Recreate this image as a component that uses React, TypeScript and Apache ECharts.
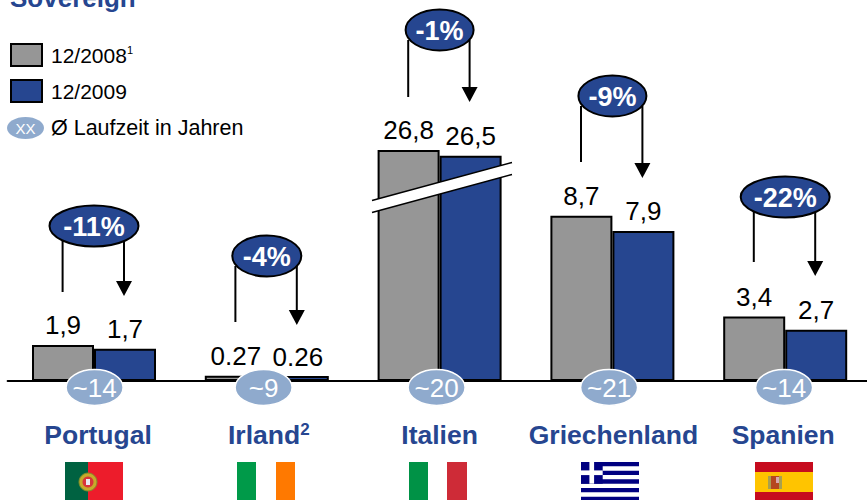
import React, { useEffect, useRef } from "react";
import * as echarts from "echarts";

const title = "Sovereign";
const categories = ["Portugal", "Irland²", "Italien", "Griechenland", "Spanien"];
const values2008 = [1.9, 0.27, 26.8, 8.7, 3.4];
const values2009 = [1.7, 0.26, 26.5, 7.9, 2.7];
const labels2008 = ["1,9", "0.27", "26,8", "8,7", "3,4"];
const labels2009 = ["1,7", "0.26", "26,5", "7,9", "2,7"];
const changes = ["-11%", "-4%", "-1%", "-9%", "-22%"];
const maturities = ["~14", "~9", "~20", "~21", "~14"];
const legendNames = ["12/2008", "12/2009"];
const legendNote = "Ø Laufzeit in Jahren";

const FONT = "'Liberation Sans', Arial, sans-serif";
const BLUE = "#264690";
const GRAY = "#969696";
const PALE = "#8FAACD";

// annotation geometry (pixels), one row per country
const bubbleCy = [226, 256, 30, 96, 197];
const bubbleRx = [44.5, 34.5, 34, 34, 44.5];
const leftEnd = [292, 322, 97, 162, 262];
const arrowTip = [296, 325, 102, 178, 276];
const labelShift = [8, 4, 0, 2, -4];
const pillDx = [0.6, -3.2, -3, -3.3, -1.1];

function renderDecor(_: any, api: any) {
  const i = api.value(0);
  const cx = api.coord([i, 0])[0];
  const cy = bubbleCy[i];
  const rx = bubbleRx[i];
  const tip = arrowTip[i];
  const lx = cx - 31.4;
  const rxLine = cx + 30;
  const black = { stroke: "#000", lineWidth: 2, fill: "none" };
  return {
    type: "group",
    children: [
      { type: "line", shape: { x1: lx, y1: cy + 10, x2: lx, y2: leftEnd[i] }, style: black },
      { type: "line", shape: { x1: rxLine, y1: cy + 10, x2: rxLine, y2: tip - 14 }, style: black },
      {
        type: "polygon",
        shape: { points: [[rxLine - 8, tip - 15], [rxLine + 8, tip - 15], [rxLine, tip]] },
        style: { fill: "#000" },
      },
      {
        type: "ellipse",
        shape: { cx, cy, rx, ry: 20.5 },
        style: { fill: BLUE, stroke: "#000", lineWidth: 2 },
      },
      {
        type: "text",
        style: {
          text: changes[i], x: cx, y: cy + 1, fill: "#fff", fontSize: 27, fontWeight: "bold", fontFamily: FONT,
          align: "center", verticalAlign: "middle", textAlign: "center", textVerticalAlign: "middle",
        },
      },
      {
        type: "ellipse",
        shape: { cx: cx + pillDx[i], cy: 387.5, rx: 28.5, ry: 18 },
        style: { fill: PALE, stroke: "#fff", lineWidth: 1.5 },
      },
      {
        type: "text",
        style: {
          text: maturities[i], x: cx + pillDx[i], y: 388, fill: "#fff", fontSize: 26, fontFamily: FONT,
          align: "center", verticalAlign: "middle", textAlign: "center", textVerticalAlign: "middle",
        },
      },
    ],
  };
}

function flagRect(x: number, y: number, width: number, height: number, fill: string) {
  return { type: "rect", shape: { x, y, width, height }, style: { fill }, z: 10 };
}

function greekFlag() {
  const x = 581, y = 462, s = 4.33, out: any[] = [];
  for (let k = 0; k < 9; k += 2) out.push(flagRect(x, y + k * s, 58, s, "#000080"));
  out.push(flagRect(x, y, 21.7, 21.7, "#000080"));
  out.push(flagRect(x + 8.4, y, 4.7, 21.7, "#fff"));
  out.push(flagRect(x, y + 8.4, 21.7, 4.7, "#fff"));
  return out;
}

const flags = [
  flagRect(65, 462, 23, 38, "#006241"),
  flagRect(88, 462, 35, 38, "#ED1C2B"),
  { type: "circle", shape: { cx: 88, cy: 482, r: 9 }, style: { fill: "#C8A92A", stroke: "#7F8F2A", lineWidth: 1 }, z: 11 },
  { type: "circle", shape: { cx: 88, cy: 482, r: 5.5 }, style: { fill: "#D8343A" }, z: 12 },
  { ...flagRect(86, 479, 4, 6, "#E8E8F0"), z: 13 },
  flagRect(237, 462, 19, 38, "#009A49"),
  flagRect(276, 462, 19, 38, "#FF7900"),
  flagRect(409, 462, 19, 38, "#009246"),
  flagRect(447, 462, 20, 38, "#CE2B37"),
  ...greekFlag(),
  flagRect(755, 462, 58, 10, "#C60B1E"),
  flagRect(755, 472, 58, 20, "#FFC400"),
  flagRect(755, 492, 58, 8, "#C60B1E"),
  { ...flagRect(768, 476, 3, 13, "#A8A050"), z: 11 },
  { ...flagRect(779, 476, 3, 13, "#A8A050"), z: 11 },
  { ...flagRect(771, 476, 8, 13, "#B5471F"), z: 11 },
  { ...flagRect(776, 477, 3, 6, "#D8A8B0"), z: 12 },
];

const breakMark = [
  { type: "polygon", shape: { points: [[372, 200.5], [512, 162.5], [512, 174.5], [372, 212.5]] }, style: { fill: "#fff" }, z: 20 },
  { type: "line", shape: { x1: 372, y1: 200.5, x2: 512, y2: 162.5 }, style: { stroke: "#000", lineWidth: 1.5 }, z: 21 },
  { type: "line", shape: { x1: 372, y1: 212.5, x2: 512, y2: 174.5 }, style: { stroke: "#000", lineWidth: 1.5 }, z: 21 },
];

const legendKey = [
  { type: "ellipse", shape: { cx: 25.5, cy: 128, rx: 18.5, ry: 11 }, style: { fill: PALE } },
  {
    type: "text",
    style: { text: "XX", x: 25.5, y: 128.5, fill: "#fff", fontSize: 15, fontFamily: FONT, align: "center", verticalAlign: "middle", textAlign: "center", textVerticalAlign: "middle" },
  },
  {
    type: "text",
    style: { text: legendNote, x: 51, y: 127.5, fill: "#000", fontSize: 21.5, fontFamily: FONT, align: "left", verticalAlign: "middle", textAlign: "left", textVerticalAlign: "middle" },
  },
];

function barSeries(name: string, data: number[], labels: string[], color: string) {
  return {
    name,
    type: "bar",
    data,
    barWidth: 62,
    barGap: 0,
    itemStyle: { color, borderColor: "#000", borderWidth: 2 },
    label: {
      show: true,
      position: "top",
      distance: 6.5,
      color: "#000",
      fontSize: 26,
      fontFamily: FONT,
      formatter: (p: any) => labels[p.dataIndex],
    },
  };
}

export default function App() {
  const ref = useRef<HTMLDivElement>(null);
  useEffect(() => {
    const chart = echarts.init(ref.current!, undefined, { renderer: "svg" });
    const rich: any = {
      sup: { color: BLUE, fontSize: 17, fontWeight: "bold", fontFamily: FONT, verticalAlign: "top" },
    };
    labelShift.forEach((s, i) => {
      rich["c" + i] = {
        color: BLUE, fontSize: 26.5, fontWeight: "bold", fontFamily: FONT,
        padding: s >= 0 ? [0, 0, 0, s] : [0, -s, 0, 0],
      };
    });
    chart.setOption({
      animation: false,
      backgroundColor: "#fff",
      title: {
        text: title, left: 5, top: -20,
        textStyle: { color: BLUE, fontSize: 26, fontWeight: "bold", fontFamily: FONT },
      },
      grid: { left: 7.6, top: 0, width: 864, height: 381 },
      legend: {
        show: true,
        left: 5,
        top: 38,
        orient: "vertical",
        itemWidth: 31,
        itemHeight: 22,
        itemGap: 12,
        icon: "rect",
        selectedMode: false,
        data: legendNames,
        formatter: (n: string) => (n === legendNames[0] ? `{a|${n}}{s|1}` : `{a|${n}}`),
        textStyle: {
          padding: [0, 0, 0, 4],
          rich: {
            a: { fontSize: 21, color: "#000", fontFamily: FONT },
            s: { fontSize: 11, color: "#000", fontFamily: FONT, verticalAlign: "top" },
          },
        },
      },
      xAxis: {
        type: "category",
        data: categories,
        axisTick: { show: false },
        axisLine: { lineStyle: { color: "#000", width: 2 } },
        axisLabel: {
          margin: 40,
          interval: 0,
          formatter: (v: string, i: number) =>
            v.endsWith("²") ? `{c${i}|${v.slice(0, -1)}}{sup|2}` : `{c${i}|${v}}`,
          rich,
        },
      },
      yAxis: {
        type: "value",
        min: 0,
        max: 34.69,
        show: false,
        splitLine: { show: false },
        breaks: [{ start: 9, end: 23.64, gap: 0 }],
        breakArea: { show: false },
      },
      series: [
        barSeries(legendNames[0], values2008, labels2008, GRAY),
        barSeries(legendNames[1], values2009, labels2009, BLUE),
        {
          type: "custom",
          name: "annotations",
          clip: false,
          z: 5,
          encode: { x: 0, y: 1 },
          data: categories.map((_, i) => [i, 0]),
          renderItem: renderDecor,
          silent: true,
        },
      ],
      graphic: { elements: [...legendKey, ...breakMark, ...flags] },
    });
    return () => chart.dispose();
  }, []);
  return (
    <div style={{ position: "fixed", left: 0, top: 0, width: 867, height: 500, overflow: "hidden" }}>
      <div ref={ref} style={{ width: 880, height: 500 }} />
    </div>
  );
}
